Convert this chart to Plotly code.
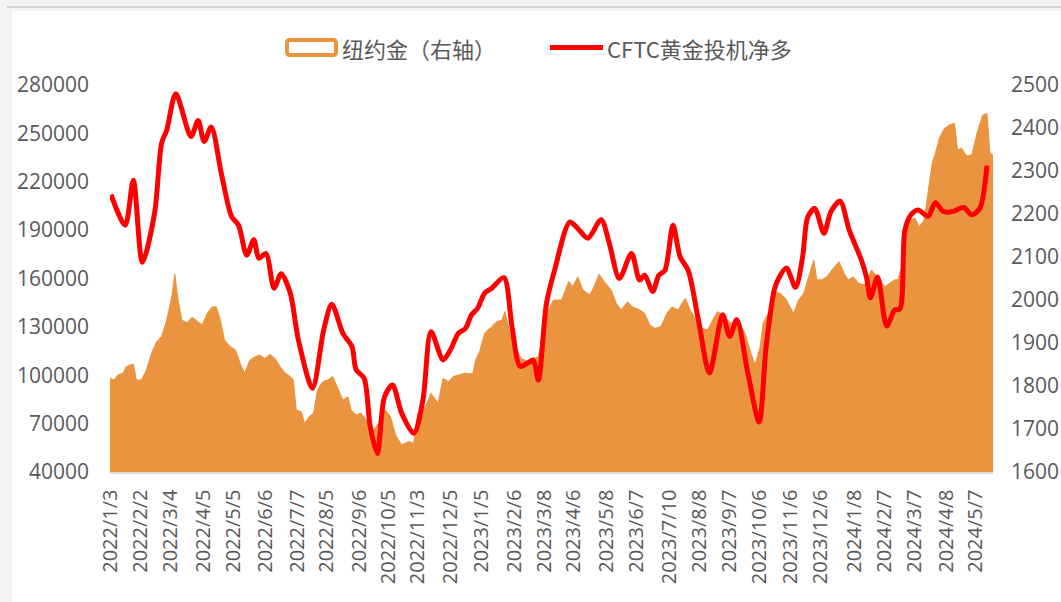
import pandas as pd
import plotly.graph_objects as go

# ---------------- data ----------------
tick_labels = ["2022/1/3", "2022/2/2", "2022/3/4", "2022/4/5", "2022/5/5", "2022/6/6",
               "2022/7/7", "2022/8/5", "2022/9/6", "2022/10/5", "2022/11/3", "2022/12/5",
               "2023/1/5", "2023/2/6", "2023/3/8", "2023/4/6", "2023/5/8", "2023/6/7",
               "2023/7/10", "2023/8/8", "2023/9/7", "2023/10/6", "2023/11/6", "2023/12/6",
               "2024/1/8", "2024/2/7", "2024/3/7", "2024/4/8", "2024/5/7"]

series_names = ["纽约金（右轴）", "CFTC黄金投机净多"]

# 纽约金 (right axis)
gold_dates = [
    "2022-01-03", "2022-01-07", "2022-01-11", "2022-01-16", "2022-01-19", "2022-01-26", "2022-01-29",
    "2022-02-03", "2022-02-08", "2022-02-13", "2022-02-18", "2022-02-23", "2022-02-28", "2022-03-05",
    "2022-03-08", "2022-03-11", "2022-03-15", "2022-03-20", "2022-03-25", "2022-03-30", "2022-04-04",
    "2022-04-09", "2022-04-14", "2022-04-18", "2022-04-22", "2022-04-26", "2022-05-02", "2022-05-07",
    "2022-05-12", "2022-05-16", "2022-05-21", "2022-05-26", "2022-05-31", "2022-06-05", "2022-06-10",
    "2022-06-15", "2022-06-20", "2022-06-25", "2022-06-30", "2022-07-03", "2022-07-06", "2022-07-11",
    "2022-07-14", "2022-07-19", "2022-07-23", "2022-07-27", "2022-08-01", "2022-08-06", "2022-08-11",
    "2022-08-16", "2022-08-21", "2022-08-26", "2022-08-29", "2022-09-03", "2022-09-08", "2022-09-13",
    "2022-09-18", "2022-09-25", "2022-10-02", "2022-10-07", "2022-10-12", "2022-10-18", "2022-10-25",
    "2022-10-30", "2022-11-03", "2022-11-07", "2022-11-12", "2022-11-16", "2022-11-20", "2022-11-23",
    "2022-11-28", "2022-12-03", "2022-12-08", "2022-12-13", "2022-12-20", "2022-12-27", "2022-12-30",
    "2023-01-03", "2023-01-08", "2023-01-15", "2023-01-20", "2023-01-25", "2023-01-28", "2023-02-02",
    "2023-02-07", "2023-02-13", "2023-02-20", "2023-02-25", "2023-03-02", "2023-03-07", "2023-03-12",
    "2023-03-17", "2023-03-25", "2023-04-01", "2023-04-05", "2023-04-10", "2023-04-15", "2023-04-22",
    "2023-04-26", "2023-05-01", "2023-05-06", "2023-05-13", "2023-05-18", "2023-05-23", "2023-05-29",
    "2023-06-03", "2023-06-10", "2023-06-15", "2023-06-20", "2023-06-25", "2023-07-01", "2023-07-07",
    "2023-07-12", "2023-07-18", "2023-07-21", "2023-07-25", "2023-07-30", "2023-08-05", "2023-08-11",
    "2023-08-16", "2023-08-23", "2023-08-26", "2023-09-02", "2023-09-08", "2023-09-15", "2023-09-22",
    "2023-09-28", "2023-10-02", "2023-10-07", "2023-10-10", "2023-10-15", "2023-10-20", "2023-10-22",
    "2023-10-27", "2023-11-01", "2023-11-06", "2023-11-09", "2023-11-14", "2023-11-19", "2023-11-24",
    "2023-11-29", "2023-12-02", "2023-12-07", "2023-12-12", "2023-12-17", "2023-12-24", "2023-12-29",
    "2024-01-02", "2024-01-07", "2024-01-12", "2024-01-18", "2024-01-25", "2024-01-31", "2024-02-07",
    "2024-02-12", "2024-02-17", "2024-02-20", "2024-02-24", "2024-02-27", "2024-03-03", "2024-03-08",
    "2024-03-12", "2024-03-17", "2024-03-21", "2024-03-25", "2024-03-29", "2024-04-01", "2024-04-06",
    "2024-04-11", "2024-04-16", "2024-04-19", "2024-04-23", "2024-04-28", "2024-05-03", "2024-05-06",
    "2024-05-09", "2024-05-14", "2024-05-18", "2024-05-21", "2024-05-24"]
gold_values = [
    1818, 1814, 1826, 1830, 1845, 1851, 1814,
    1814, 1837, 1876, 1903, 1915, 1953, 2008,
    2060, 2004, 1953, 1947, 1960, 1950, 1942,
    1969, 1984, 1984, 1953, 1907, 1891, 1884,
    1849, 1830, 1860, 1868, 1872, 1864, 1874,
    1864, 1845, 1830, 1822, 1814, 1744, 1740,
    1713, 1729, 1737, 1791, 1810, 1814, 1822,
    1795, 1767, 1775, 1744, 1733, 1737, 1721,
    1690, 1713, 1744, 1729, 1686, 1663, 1671,
    1667, 1737, 1737, 1760, 1783, 1771, 1760,
    1818, 1810, 1822, 1826, 1830, 1828, 1860,
    1880, 1923, 1938, 1950, 1953, 1973, 1923,
    1891, 1864, 1857, 1864, 1868, 1923, 1977,
    2000, 2000, 2043, 2031, 2054, 2023, 2012,
    2031, 2060, 2043, 2023, 1992, 1977, 1996,
    1984, 1977, 1969, 1942, 1934, 1938, 1969,
    1984, 1977, 1988, 2004, 1977, 1953, 1934,
    1930, 1961, 1973, 1961, 1946, 1953, 1923,
    1876, 1849, 1891, 1946, 1969, 1996, 2019,
    2015, 2004, 1984, 1969, 2000, 2015, 2054,
    2093, 2047, 2047, 2054, 2070, 2089, 2062,
    2047, 2054, 2039, 2035, 2070, 2054, 2031,
    2039, 2047, 2047, 2077, 2163, 2186, 2190,
    2170, 2186, 2256, 2318, 2349, 2376, 2399,
    2407, 2411, 2349, 2353, 2335, 2337, 2368,
    2395, 2430, 2434, 2341, 2337]

# CFTC黄金投机净多 (left axis)
cftc_dates = [
    "2022-01-04", "2022-01-18", "2022-01-26", "2022-02-04", "2022-02-16", "2022-02-23", "2022-02-28",
    "2022-03-09", "2022-03-24", "2022-03-31", "2022-04-06", "2022-04-13", "2022-04-23", "2022-05-03",
    "2022-05-10", "2022-05-18", "2022-05-25", "2022-05-30", "2022-06-06", "2022-06-14", "2022-06-21",
    "2022-06-30", "2022-07-08", "2022-07-22", "2022-08-02", "2022-08-10", "2022-08-21", "2022-08-30",
    "2022-09-03", "2022-09-11", "2022-09-17", "2022-09-24", "2022-10-01", "2022-10-09", "2022-10-18",
    "2022-10-30", "2022-11-08", "2022-11-16", "2022-11-28", "2022-12-05", "2022-12-13", "2022-12-20",
    "2022-12-26", "2023-01-01", "2023-01-08", "2023-01-15", "2023-01-27", "2023-02-04", "2023-02-12",
    "2023-02-20", "2023-02-25", "2023-03-02", "2023-03-10", "2023-03-18", "2023-04-02", "2023-04-10",
    "2023-04-20", "2023-05-03", "2023-05-11", "2023-05-21", "2023-06-02", "2023-06-10", "2023-06-15",
    "2023-06-23", "2023-06-29", "2023-07-05", "2023-07-13", "2023-07-20", "2023-07-28", "2023-08-07",
    "2023-08-18", "2023-08-31", "2023-09-07", "2023-09-14", "2023-09-25", "2023-10-06", "2023-10-13",
    "2023-10-21", "2023-10-26", "2023-11-02", "2023-11-11", "2023-11-18", "2023-11-23", "2023-11-30",
    "2023-12-09", "2023-12-16", "2023-12-25", "2024-01-03", "2024-01-15", "2024-01-20", "2024-01-24",
    "2024-01-31", "2024-02-09", "2024-02-17", "2024-02-22", "2024-02-27", "2024-03-04", "2024-03-11",
    "2024-03-21", "2024-03-28", "2024-04-05", "2024-04-14", "2024-04-25", "2024-05-03", "2024-05-11",
    "2024-05-18"]
cftc_values = [
    212000, 193000, 221000, 170000, 200500, 244000, 252000,
    274500, 248000, 258000, 245000, 254000, 225000, 198500,
    193000, 174500, 184000, 172500, 175500, 154000, 163000,
    151000, 122000, 92000, 128000, 144000, 126000, 117700,
    103500, 98000, 68000, 51500, 86500, 94000, 76500,
    64000, 84500, 127000, 109500, 115500, 126000, 129000,
    137500, 141500, 151000, 154000, 160500, 130000, 105500,
    107800, 109500, 97000, 144500, 165000, 195000, 191000,
    185000, 196500, 182000, 160000, 175500, 159000, 162000,
    152000, 162000, 165000, 193000, 173500, 165000, 134500,
    101500, 137500, 124000, 134500, 101000, 71000, 118000,
    153000, 161000, 166500, 154500, 173500, 198000, 203500,
    188000, 201500, 208000, 190000, 171500, 161000, 148000,
    161000, 130500, 140500, 141000, 190000, 199500, 202500,
    198500, 207000, 201500, 201500, 204000, 199500, 203500,
    230000]

# ---------------- styling ----------------
ORANGE = "#EA943F"
RED = "#FF0000"
TXT = "#595959"
FONT = "Open Sans, Noto Sans CJK SC, sans-serif"
CJK = "Noto Sans CJK SC, sans-serif"

# plot area in pixels (used only for decoration / legend placement)
PX_L, PX_R, PX_T, PX_B = 110, 993, 85, 472
def px_x(px):
    return (px - PX_L) / (PX_R - PX_L)
def px_y(py):
    return (PX_B - py) / (PX_B - PX_T)

def rounded_box(x0, y0, x1, y1, r):
    pts = [
        f"M{px_x(x0 + r)},{px_y(y0)}", f"L{px_x(x1 - r)},{px_y(y0)}",
        f"Q{px_x(x1)},{px_y(y0)} {px_x(x1)},{px_y(y0 + r)}", f"L{px_x(x1)},{px_y(y1 - r)}",
        f"Q{px_x(x1)},{px_y(y1)} {px_x(x1 - r)},{px_y(y1)}", f"L{px_x(x0 + r)},{px_y(y1)}",
        f"Q{px_x(x0)},{px_y(y1)} {px_x(x0)},{px_y(y1 - r)}", f"L{px_x(x0)},{px_y(y0 + r)}",
        f"Q{px_x(x0)},{px_y(y0)} {px_x(x0 + r)},{px_y(y0)}", "Z"]
    return " ".join(pts)

fig = go.Figure()

fig.add_trace(go.Scatter(
    x=pd.to_datetime(gold_dates), y=gold_values, mode="lines",
    fill="tozeroy", fillcolor=ORANGE, line=dict(color=ORANGE, width=1),
    yaxis="y", name=series_names[0], showlegend=False, hoverinfo="skip"))

fig.add_trace(go.Scatter(
    x=pd.to_datetime(cftc_dates), y=cftc_values, mode="lines",
    line=dict(color=RED, width=5, shape="spline", smoothing=0.8),
    name=series_names[1], yaxis="y2", showlegend=False))

tick_dates = [pd.to_datetime(t, format="%Y/%m/%d") for t in tick_labels]

shapes = [
    # page frame decoration
    dict(type="rect", xref="paper", yref="paper", layer="below",
         x0=px_x(0), x1=px_x(12), y0=px_y(602), y1=px_y(0),
         fillcolor="#F3F3F3", line=dict(width=0)),
    dict(type="rect", xref="paper", yref="paper", layer="below",
         x0=px_x(0), x1=px_x(1061), y0=px_y(11), y1=px_y(0),
         fillcolor="#F3F3F3", line=dict(width=0)),
    dict(type="line", xref="paper", yref="paper", layer="below",
         x0=px_x(7), x1=px_x(1061), y0=px_y(7), y1=px_y(7),
         line=dict(color="#C8C8C8", width=1.5)),
    # legend symbols
    dict(type="path", xref="paper", yref="paper", path=rounded_box(287, 40, 336, 55, 3),
         fillcolor="white", line=dict(color=ORANGE, width=4)),
    dict(type="line", xref="paper", yref="paper",
         x0=px_x(550), x1=px_x(603), y0=px_y(47.5), y1=px_y(47.5),
         line=dict(color=RED, width=5)),
]

annotations = [
    dict(xref="paper", yref="paper", x=px_x(340), y=px_y(47.5), xanchor="left", yanchor="middle",
         text=series_names[0], showarrow=False, font=dict(family=CJK, size=22, color=TXT)),
    dict(xref="paper", yref="paper", x=px_x(605), y=px_y(47.5), xanchor="left", yanchor="middle",
         text=series_names[1], showarrow=False, font=dict(family=CJK, size=22, color=TXT)),
]

fig.update_layout(
    width=1061, height=602,
    margin=dict(l=PX_L, r=1061 - PX_R, t=PX_T, b=602 - PX_B, autoexpand=False),
    paper_bgcolor="white", plot_bgcolor="white",
    font=dict(family=FONT, size=21, color=TXT),
    showlegend=False,
    xaxis=dict(type="date", range=["2022-01-03", "2024-05-24"],
               tickmode="array", tickvals=tick_dates, ticktext=tick_labels,
               tickangle=-90, ticks="", showgrid=False, zeroline=False,
               showline=True, linecolor="#D9D9D9", linewidth=1.5,
               ticklabelstandoff=8, automargin=False,
               tickfont=dict(family=FONT, size=20, color=TXT)),
    yaxis=dict(side="right", range=[1600, 2500], tick0=1600, dtick=100,
               showgrid=False, zeroline=False, showline=False, ticks="",
               tickformat="d", ticklabelstandoff=17, automargin=False,
               tickfont=dict(family=FONT, size=21, color=TXT)),
    yaxis2=dict(overlaying="y", side="left", range=[40000, 280000], tick0=40000, dtick=30000,
                showgrid=False, zeroline=False, showline=False, ticks="",
                tickformat="d", ticklabelstandoff=20, automargin=False,
                tickfont=dict(family=FONT, size=21, color=TXT)),
    hovermode=False,
    shapes=shapes,
    annotations=annotations,
)

fig.write_html("out.html", config={"displayModeBar": False, "staticPlot": True},
               post_script="document.body.style.margin='0px';")
